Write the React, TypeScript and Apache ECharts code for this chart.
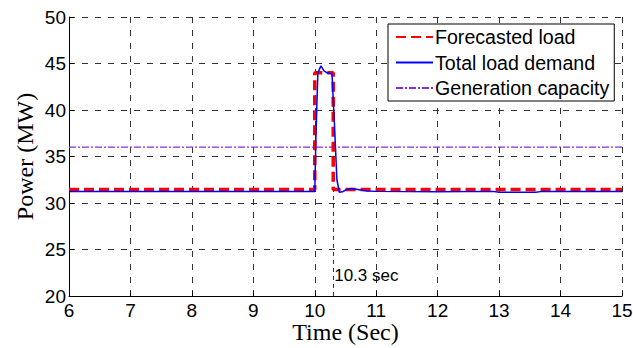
import React, { useEffect, useRef } from "react";
import * as echarts from "echarts";

const forecastedLoad: [number, number][] = [
  [6, 31.45], [10, 31.45], [10, 44.0], [10.3, 44.0], [10.3, 31.45], [15, 31.45],
];
const totalLoadDemand: [number, number][] = [
  [6, 31.25], [10.0, 31.25], [10.02, 37.5], [10.05, 44.0], [10.1, 44.75], [10.15, 44.2],
  [10.2, 44.0], [10.28, 43.9], [10.32, 38.5], [10.36, 32.5], [10.4, 31.15], [10.45, 31.2],
  [10.52, 31.45], [10.6, 31.55], [10.7, 31.45], [10.85, 31.3], [11.0, 31.25], [12.0, 31.2],
  [12.9, 31.25], [13.0, 31.15], [13.6, 31.15], [13.7, 31.25], [15, 31.25],
];
const generationCapacity: [number, number][] = [[6, 36], [15, 36]];
const markerTime = 10.3;
const markerLabel = "10.3 sec";
const xTicks = [6, 7, 8, 9, 10, 11, 12, 13, 14, 15];
const yTicks = [20, 25, 30, 35, 40, 45, 50];

export default function App() {
  const ref = useRef<HTMLDivElement>(null);
  useEffect(() => {
    if (!ref.current) return;
    const chart = echarts.init(ref.current, null, { renderer: "svg" });
    const gridLine = { show: true, lineStyle: { color: "#333", type: [6, 7] as any, width: 1 } };
    chart.setOption({
      animation: false,
      backgroundColor: "#fff",
      grid: { left: 69, right: 11, top: 17, bottom: 52, outerBoundsMode: "none", containLabel: false },
      legend: {
        left: 388,
        top: 24,
        orient: "vertical",
        backgroundColor: "#fff",
        borderColor: "#000",
        borderWidth: 1,
        borderRadius: 0,
        padding: [3, 5, 3, 7],
        itemGap: 5.5,
        itemWidth: 37,
        itemHeight: 20,
        itemStyle: { opacity: 0 },
        textStyle: { fontFamily: "Liberation Sans, Arial", fontSize: 19.6, color: "#000", padding: [0, 0, 0, -3] },
        data: ["Forecasted load", "Total load demand", "Generation capacity"],
      },
      xAxis: {
        type: "value",
        min: 6,
        max: 15,
        interval: 1,
        name: "Time (Sec)",
        nameLocation: "middle",
        nameGap: 24,
        nameMoveOverlap: false,
        nameTextStyle: { fontFamily: "Liberation Serif, Times New Roman", fontSize: 24, color: "#000" },
        axisLine: { show: true, onZero: false, lineStyle: { color: "#000", width: 1 } },
        axisTick: { show: true, inside: true, length: 5, lineStyle: { color: "#000" } },
        axisLabel: {
          fontFamily: "Liberation Sans, Arial", fontSize: 19, color: "#000", margin: 5,
          formatter: (v: number) => (xTicks.includes(v) ? String(v) : ""),
        },
        splitLine: gridLine,
      },
      yAxis: {
        type: "value",
        min: 20,
        max: 50,
        interval: 5,
        name: "Power (MW)",
        nameLocation: "middle",
        nameGap: 32,
        nameMoveOverlap: false,
        nameTextStyle: { fontFamily: "Liberation Serif, Times New Roman", fontSize: 24, color: "#000" },
        axisLine: { show: true, lineStyle: { color: "#000", width: 1 } },
        axisTick: { show: true, inside: true, length: 5, lineStyle: { color: "#000" } },
        axisLabel: {
          fontFamily: "Liberation Sans, Arial", fontSize: 19, color: "#000", margin: 3,
          formatter: (v: number) => (yTicks.includes(v) ? String(v) : ""),
        },
        splitLine: gridLine,
      },
      series: [
        {
          name: "Generation capacity",
          type: "line",
          data: generationCapacity,
          showSymbol: false,
          symbol: "none",
          color: "#8A2BE2",
          lineStyle: { color: "#8A2BE2", width: 1.3, type: [7, 2, 2, 2] },
          z: 3,
        },
        {
          name: "Forecasted load",
          type: "line",
          data: forecastedLoad,
          showSymbol: false,
          symbol: "none",
          color: "#ff0000",
          lineStyle: { color: "#ff0000", width: 3.5, type: [10, 5] },
          z: 4,
          markLine: {
            silent: true,
            symbol: "none",
            label: { show: false },
            lineStyle: { color: "#333", type: [4, 4], width: 1 },
            data: [[{ coord: [markerTime, 20] }, { coord: [markerTime, 31.45] }]],
          },
        },
        {
          name: "Total load demand",
          type: "line",
          data: totalLoadDemand,
          showSymbol: false,
          symbol: "none",
          color: "#0000ff",
          lineStyle: { color: "#0000ff", width: 1.5 },
          z: 5,
          markPoint: {
            silent: true,
            symbol: "circle",
            symbolSize: 0,
            label: {
              show: true,
              position: "right",
              distance: 1,
              formatter: markerLabel,
              fontFamily: "Liberation Sans, Arial",
              fontSize: 17,
              color: "#000",
            },
            data: [{ coord: [markerTime, 22.25] }],
          },
        },
      ],
    });
    return () => chart.dispose();
  }, []);
  return (
    <div
      ref={ref}
      style={{ position: "absolute", left: 0, top: 0, width: 633, height: 348 }}
    />
  );
}
